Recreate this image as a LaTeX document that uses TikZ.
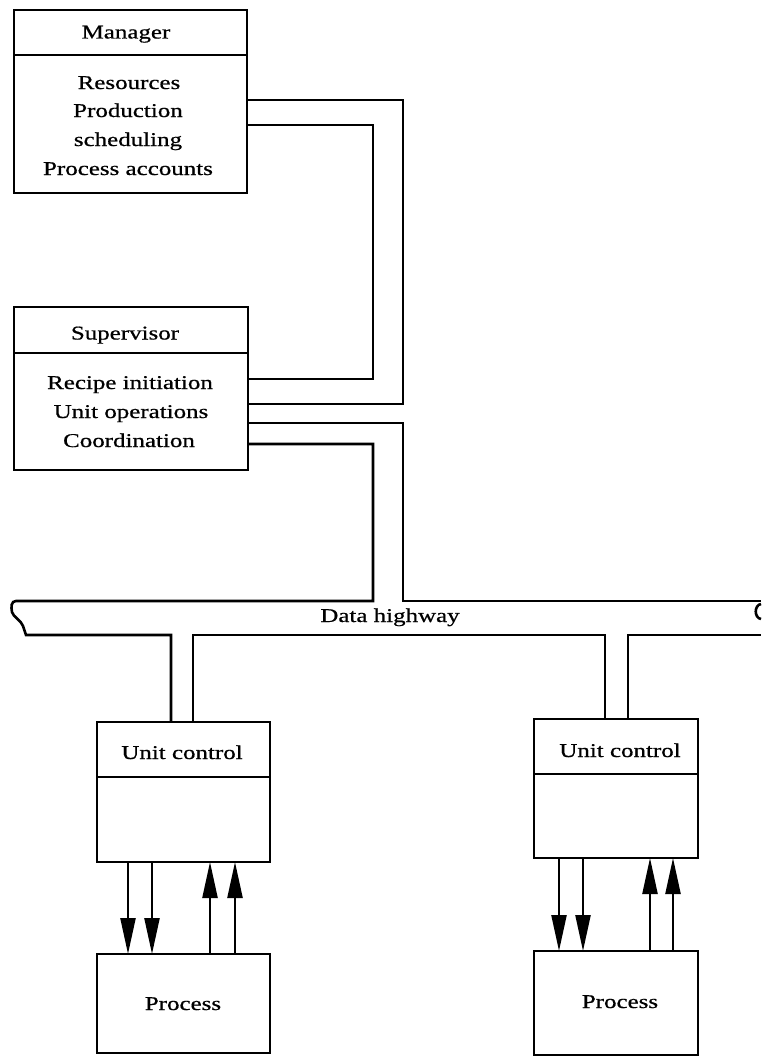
\documentclass[tikz,border=0pt]{standalone}
\usepackage{fontspec}
\setmainfont{Liberation Serif}[FakeStretch=1.28,FakeBold=0.7]
\usetikzlibrary{arrows.meta}
\begin{document}
\begin{tikzpicture}[x=1pt,y=-1pt,
  line width=2.6pt,
  box/.style={draw, rectangle, inner sep=0pt, outer sep=0pt},
  lbl/.style={anchor=base, inner sep=0pt, font=\fontsize{19.5}{24}\selectfont},
  sig/.style={-{Triangle[length=36pt,width=15pt]}, line width=2.3pt},
]
\useasboundingbox (0,0) rectangle (761,1057);

% boxes
\node[box, minimum width=233pt, minimum height=183pt] (mgr) at (130.5,101.5) {};
\node[box, minimum width=234pt, minimum height=163pt] (sup) at (131,388.5) {};
\node[box, minimum width=173pt, minimum height=140pt] (uc1) at (183.5,792) {};
\node[box, minimum width=164pt, minimum height=139pt] (uc2) at (616,788.5) {};
\node[box, minimum width=173pt, minimum height=99pt] (pr1) at (183.5,1003.5) {};
\node[box, minimum width=164pt, minimum height=104pt] (pr2) at (616,1003) {};

% header dividers
\draw ([yshift=-45pt]mgr.north west) -- ([yshift=-45pt]mgr.north east);
\draw ([yshift=-46pt]sup.north west) -- ([yshift=-46pt]sup.north east);
\draw ([yshift=-55pt]uc1.north west) -- ([yshift=-55pt]uc1.north east);
\draw ([yshift=-55pt]uc2.north west) -- ([yshift=-55pt]uc2.north east);

% texts
\node[lbl] (tmgr) at (126,38.5) {Manager};
\node[lbl] (tm1) at (129,89) {Resources};
\node[lbl] (tm2) at (128,117) {Production};
\node[lbl] (tm3) at (128,146) {scheduling};
\node[lbl] (tm4) at (128,175) {Process accounts};

\node[lbl] (tsup) at (125,339.5) {Supervisor};
\node[lbl] (ts1) at (130,389) {Recipe initiation};
\node[lbl] (ts2) at (131,418) {Unit operations};
\node[lbl] (ts3) at (129,447) {Coordination};

\node[lbl] (tuc1) at (182,759) {Unit control};
\node[lbl] (tuc2) at (620,757) {Unit control};
\node[lbl] (tpr1) at (183,1010) {Process};
\node[lbl] (tpr2) at (620,1008) {Process};
\node[lbl] (thw) at (390,622) {Data highway};

% links between manager and supervisor
\coordinate (mo) at ([yshift=-90pt]mgr.north east);
\coordinate (mi) at ([yshift=-115pt]mgr.north east);
\coordinate (s1) at ([yshift=-72pt]sup.north east);
\coordinate (s2) at ([yshift=-97pt]sup.north east);
\coordinate (s3) at ([yshift=-116pt]sup.north east);
\coordinate (s4) at ([yshift=-137pt]sup.north east);

\draw (mo) -| (403,250) |- (s2);
\draw (mi) -| (373,250) |- (s1);

% data highway with its branches
\draw (s3) -| (403,601) -- (761,601);
\draw (s4) -| (373,601) -- (16,601)
  .. controls (11,601) and (11,607) .. (12,612)
  .. controls (13,617) and (21,620) .. (23,626) -- (26,635)
  -- (171,635) -- ([xshift=-12.5pt]uc1.north);
\draw ([xshift=9.5pt]uc1.north) |- (605,635) -- ([xshift=-11pt]uc2.north);
\draw ([xshift=12pt]uc2.north) |- (761,635);
\draw (761,604) .. controls (754,605) and (754,618) .. (761,619);

% signals between unit control and process
\draw[sig] ([xshift=-55.5pt]uc1.south) -- ([xshift=-55.5pt]pr1.north);
\draw[sig] ([xshift=-31.5pt]uc1.south) -- ([xshift=-31.5pt]pr1.north);
\draw[sig] ([xshift=26.5pt]pr1.north) -- ([xshift=26.5pt]uc1.south);
\draw[sig] ([xshift=51.5pt]pr1.north) -- ([xshift=51.5pt]uc1.south);

\draw[sig] ([xshift=-57pt]uc2.south) -- ([xshift=-57pt]pr2.north);
\draw[sig] ([xshift=-33pt]uc2.south) -- ([xshift=-33pt]pr2.north);
\draw[sig] ([xshift=34pt]pr2.north) -- ([xshift=34pt]uc2.south);
\draw[sig] ([xshift=57pt]pr2.north) -- ([xshift=57pt]uc2.south);
\end{tikzpicture}
\end{document}
